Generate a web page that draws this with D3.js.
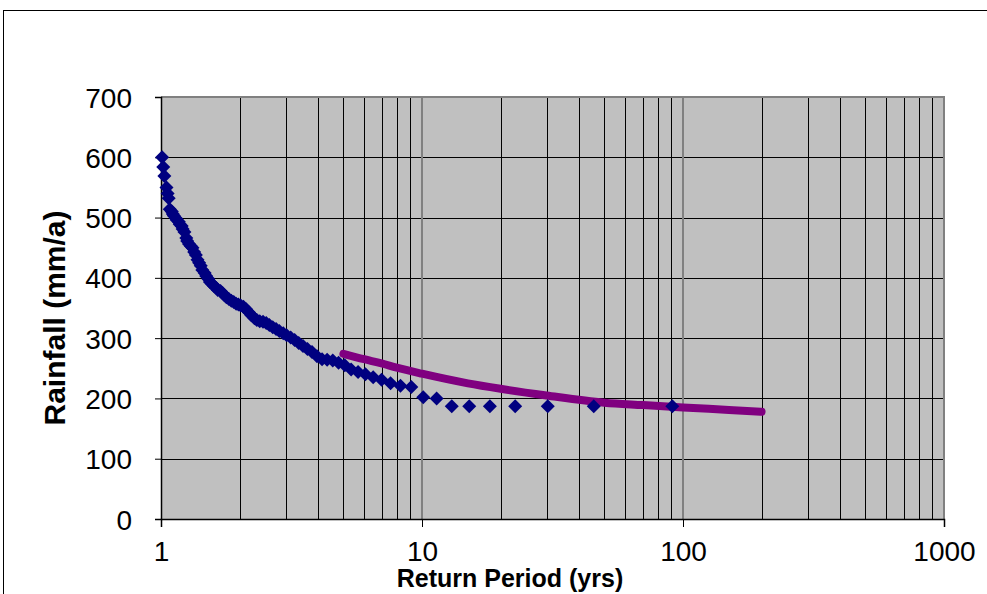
<!DOCTYPE html>
<html>
<head>
<meta charset="utf-8">
<script src="https://cdn.jsdelivr.net/npm/d3@7"></script>
<style>
  body { margin: 0; background: #fff; }
  #chart { width: 987px; height: 594px; }
  text { font-family: "Liberation Sans", Arial, sans-serif; fill: #000; }
</style>
</head>
<body>
<div id="chart"></div>
<script>
/* DATA */
const returnPeriod = [
  91, 45.5, 30.33, 22.75, 18.2, 15.17, 13, 11.38, 10.11, 9.1,
  8.27, 7.58, 7, 6.5, 6.07, 5.69, 5.35, 5.06, 4.79, 4.55,
  4.33, 4.14, 3.96, 3.79, 3.64, 3.5, 3.37, 3.25, 3.14, 3.03,
  2.94, 2.84, 2.76, 2.68, 2.6, 2.53, 2.46, 2.39, 2.33, 2.28,
  2.22, 2.17, 2.12, 2.07, 2.02, 1.98, 1.94, 1.9, 1.86, 1.82,
  1.78, 1.75, 1.72, 1.69, 1.65, 1.63, 1.6, 1.57, 1.54, 1.52,
  1.49, 1.47, 1.44, 1.42, 1.4, 1.38, 1.36, 1.34, 1.32, 1.3,
  1.28, 1.26, 1.25, 1.23, 1.21, 1.2, 1.18, 1.17, 1.15, 1.14,
  1.12, 1.11, 1.1, 1.08, 1.07, 1.06, 1.05, 1.03, 1.02, 1.01
];
const rainfall = [
  187, 187, 187, 187, 187, 187, 187, 200, 202, 219,
  221, 225, 231, 235, 240, 244, 248, 255, 259, 263,
  264, 265, 270, 277, 282, 287, 292, 297, 301, 305,
  308, 312, 315, 318, 322, 325, 327, 328, 330, 333,
  338, 343, 348, 352, 354, 356, 357, 360, 362, 365,
  368, 371, 375, 378, 380, 383, 386, 390, 393, 398,
  403, 408, 413, 420, 425, 430, 438, 443, 450, 453,
  456, 461, 466, 476, 481, 486, 489, 493, 496, 499,
  503, 506, 510, 514, 532, 540, 550, 569, 584, 600
];
const fitPeriod = [5, 6, 7, 8, 10, 15, 20, 30, 50, 70, 100, 150, 200];
const fitRainfall = [274, 265, 258, 251, 241, 225, 216, 205, 193, 189, 185, 181, 178];

const xTicks = [1, 10, 100, 1000];
const xMinor = [2, 3, 4, 5, 6, 7, 8, 9, 20, 30, 40, 50, 60, 70, 80, 90,
                200, 300, 400, 500, 600, 700, 800, 900];
const yTicks = [0, 100, 200, 300, 400, 500, 600, 700];

/* SVG */
const width = 987, height = 594;
const margin = {top: 97, left: 161, right: 43, bottom: 75};

const svg = d3.select("#chart").append("svg")
    .attr("width", width)
    .attr("height", height);

// outer chart border (extends past the window)
svg.append("rect")
    .attr("x", 3.5).attr("y", 10.5)
    .attr("width", 1100).attr("height", 700)
    .attr("fill", "#fff")
    .attr("stroke", "#000");

/* SCALES */
const xScale = d3.scaleLog()
    .domain([1, 1000])
    .range([margin.left, width - margin.right]);

const yScale = d3.scaleLinear()
    .domain([0, 700])
    .range([height - margin.bottom, margin.top]);

const x0 = xScale(1), x1 = xScale(1000), y0 = yScale(0), y1 = yScale(700);

/* PLOT AREA */
svg.append("rect")
    .attr("x", x0).attr("y", y1)
    .attr("width", x1 - x0).attr("height", y0 - y1)
    .attr("fill", "#c0c0c0");

// horizontal grid
svg.append("g").selectAll("line")
    .data(yTicks.filter(d => d > 0 && d < 700))
    .enter().append("line")
        .attr("x1", x0).attr("x2", x1)
        .attr("y1", d => Math.round(yScale(d)) + 0.5)
        .attr("y2", d => Math.round(yScale(d)) + 0.5)
        .attr("stroke", "#000")
        .attr("stroke-width", 1);

// vertical minor grid
svg.append("g").selectAll("line")
    .data(xMinor)
    .enter().append("line")
        .attr("x1", d => Math.round(xScale(d)) + 0.5)
        .attr("x2", d => Math.round(xScale(d)) + 0.5)
        .attr("y1", y1).attr("y2", y0)
        .attr("stroke", "#000")
        .attr("stroke-width", 1);

// vertical major grid
svg.append("g").selectAll("line")
    .data([10, 100])
    .enter().append("line")
        .attr("x1", d => xScale(d)).attr("x2", d => xScale(d))
        .attr("y1", y1).attr("y2", y0)
        .attr("stroke", "#808080")
        .attr("stroke-width", 2);

// top + right border
svg.append("path")
    .attr("d", `M${x0},${y1}H${x1}V${y0}`)
    .attr("fill", "none")
    .attr("stroke", "#808080")
    .attr("stroke-width", 2);

/* AXES */
const yAxis = svg.append("g")
    .attr("transform", `translate(${x0},0)`)
    .call(d3.axisLeft(yScale).tickValues(yTicks).tickSize(6).tickPadding(23).tickFormat(d3.format("d")));

const xAxis = svg.append("g")
    .attr("transform", `translate(0,${y0})`)
    .call(d3.axisBottom(xScale).tickValues(xTicks).tickSize(8).tickPadding(14).tickFormat(d3.format("d")));

[xAxis, yAxis].forEach(a => {
    a.select(".domain").attr("stroke", "#000").attr("stroke-width", 1.5);
    a.selectAll(".tick line").attr("stroke", "#000");
    a.selectAll("text")
        .style("font-family", "'Liberation Sans', Arial, sans-serif")
        .style("font-size", "28px")
        .attr("fill", "#000");
});
yAxis.selectAll("text").attr("dy", "0.36em");
xAxis.selectAll("text").attr("dy", "0.71em");

/* DATA POINTS */
const points = returnPeriod.map((t, i) => ({t: t, r: rainfall[i]}));

// fitted curve
const line = d3.line()
    .x(d => xScale(d.t))
    .y(d => yScale(d.r))
    .curve(d3.curveMonotoneX);

svg.append("path")
    .datum(fitPeriod.map((t, i) => ({t: t, r: fitRainfall[i]})))
    .attr("d", line)
    .attr("fill", "none")
    .attr("stroke", "#800080")
    .attr("stroke-width", 8)
    .attr("stroke-linecap", "round");

svg.append("g").selectAll("path")
    .data(points)
    .enter().append("path")
        .attr("d", d3.symbol().type(d3.symbolSquare).size(98))
        .attr("transform", d => `translate(${xScale(d.t)},${yScale(d.r)}) rotate(45)`)
        .attr("fill", "#000080");

/* AXIS LABELS */
svg.append("text")
    .attr("x", 510)
    .attr("y", 587)
    .attr("text-anchor", "middle")
    .style("font-size", "25px")
    .style("font-weight", "bold")
    .text("Return Period (yrs)");

svg.append("text")
    .attr("transform", "translate(65,318) rotate(-90)")
    .attr("text-anchor", "middle")
    .style("font-size", "30px")
    .style("font-weight", "bold")
    .text("Rainfall (mm/a)");
</script>
</body>
</html>
